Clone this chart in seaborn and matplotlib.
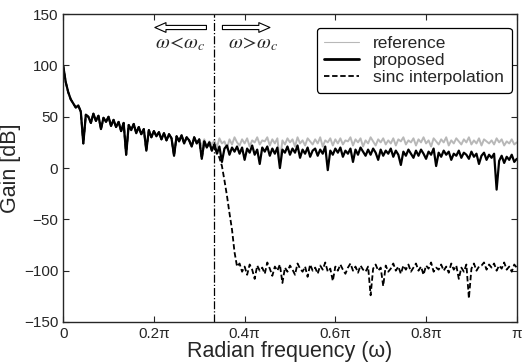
import numpy as np
import pandas as pd
import matplotlib
matplotlib.use("Agg")
import matplotlib.pyplot as plt
import seaborn as sns

# frequency axis in units of pi (181 bins from 0 to pi)
freq = np.linspace(0, 1, 181)
cutoff = 1 / 3

# proposed method, gain in dB
proposed = [
    100, 84, 74, 67, 63, 59, 61, 55, 24, 52,
    50, 44, 53, 46, 51, 38, 49, 45, 50, 41,
    47, 40, 45, 36, 44, 13, 42, 37, 43, 34,
    40, 33, 38, 17, 37, 30, 36, 31, 35, 28,
    34, 27, 33, 29, 12, 31, 26, 32, 24, 30,
    27, 21, 30, 24, 28, 9, 26, 20, 25, 17,
    23, 14, 21, 6, 19, 22, 13, 20, 16, 21,
    14, 20, 8, 19, 15, 22, 13, 18, 4, 20,
    16, 21, 12, 19, 14, 20, 0, 18, 15, 21,
    13, 19, 15, 22, 10, 18, 14, 20, 11, 17,
    19, 12, 18, 14, 21, -2, 17, 13, 19, 15,
    20, 11, 17, 14, 19, 6, 18, 13, 20, 16,
    12, 18, 13, 19, 15, 8, 18, 12, 17, 14,
    19, 11, 17, 13, 3, 16, 12, 18, 14, 10,
    17, 12, 18, 14, 9, 16, 13, 19, 2, 15,
    11, 17, 13, 16, 8, 14, 12, 17, 10, 15,
    13, 9, 16, 11, 14, 4, 12, 15, 8, 13,
    10, 14, -21, 7, 12, 5, 11, 8, 13, 6, 9,
]

# reference: same as proposed below 0.3*pi, values from bin 54 on
reference_tail = [
    27, 22, 28, 21, 26, 23,
    27, 20, 29, 24, 26, 19, 28, 23, 30, 25,
    22, 28, 24, 29, 21, 27, 25, 30, 23, 27,
    26, 30, 22, 28, 24, 29, 7, 27, 23, 29,
    25, 28, 21, 30, 24, 27, 22, 29, 26, 23,
    28, 24, 30, 21, 27, 25, 29, 22, 28, 24,
    29, 23, 27, 26, 30, 22, 28, 25, 29, 21,
    27, 24, 30, 26, 22, 28, 25, 29, 23, 27,
    24, 29, 22, 28, 26, 30, 23, 27, 25, 29,
    22, 28, 25, 30, 24, 27, 21, 29, 26, 23,
    28, 25, 30, 22, 27, 24, 29, 26, 23, 28,
    25, 30, 23, 27, 24, 29, 22, 28, 26, 24,
    27, 23, 29, 25, 28, 22, 26, 24, 28, 23, 25,
]

# sinc interpolation: same as proposed up to the cutoff, values from bin 61 on
sinc_tail = [
    16, 10, 2, -12, -27, -44, -60, -82, -96,
    -93, -101, -96, -104, -94, -99, -108, -95, -100, -97,
    -103, -92, -98, -105, -96, -100, -94, -112, -97, -101,
    -95, -99, -104, -93, -98, -101, -96, -106, -94, -100,
    -97, -103, -95, -99, -92, -101, -98, -110, -96, -100,
    -94, -99, -103, -97, -93, -100, -96, -102, -95, -99,
    -101, -96, -124, -98, -94, -100, -97, -115, -95, -101,
    -98, -93, -100, -96, -103, -95, -99, -94, -101, -97,
    -93, -100, -96, -104, -95, -98, -92, -101, -97, -99,
    -94, -100, -96, -102, -93, -99, -95, -108, -97, -101,
    -94, -127, -98, -93, -100, -96, -95, -92, -99, -94,
    -97, -93, -100, -95, -98, -92, -99, -96, -101, -94, -97,
]

reference = proposed[:54] + reference_tail
sinc = proposed[:61] + sinc_tail

xticks = [0, 0.2, 0.4, 0.6, 0.8, 1.0]
xticklabels = ["0", "0.2π", "0.4π", "0.6π", "0.8π", "π"]
yticks = [-150, -100, -50, 0, 50, 100, 150]

sns.set_style("ticks")
plt.rcParams["font.family"] = ["Liberation Sans", "DejaVu Sans"]
plt.rcParams["mathtext.fontset"] = "stix"
plt.rcParams["xtick.direction"] = "in"
plt.rcParams["ytick.direction"] = "in"

fig = plt.figure(figsize=(5.22, 3.63), dpi=100)
ax = fig.add_axes([0.121, 0.113, 0.869, 0.848])

sns.lineplot(x=freq, y=reference, color="#b8b8b8", lw=1.4, label="reference",
             estimator=None, ax=ax)
sns.lineplot(x=freq, y=sinc, color="black", lw=1.3, ls=(0, (3, 1.5)),
             label="sinc interpolation", estimator=None, ax=ax)
sns.lineplot(x=freq, y=proposed, color="black", lw=1.6, label="proposed",
             estimator=None, ax=ax)

# cutoff line and region arrows
ax.axvline(cutoff, color="black", lw=0.9, ls="-.")
arrow = dict(arrowstyle="simple,head_width=0.7,head_length=0.8,tail_width=0.3",
             fc="white", ec="black", lw=0.8)
ax.annotate("", xy=(0.196, 137), xytext=(0.322, 137), arrowprops=arrow)
ax.annotate("", xy=(0.462, 137), xytext=(0.345, 137), arrowprops=arrow)
ax.text(0.257, 121, r"$\omega\!<\!\omega_c$", ha="center", va="center", fontsize=14.5)
ax.text(0.418, 121, r"$\omega\!>\!\omega_c$", ha="center", va="center", fontsize=14.5)

ax.set_xlim(0, 1)
ax.set_ylim(-150, 150)
ax.set_xticks(xticks)
ax.set_xticklabels(xticklabels)
ax.set_yticks(yticks)
ax.tick_params(labelsize=11, top=True, right=True, length=4, width=0.8)
ax.set_xlabel("Radian frequency (ω)", fontsize=15.5, labelpad=0)
ax.set_ylabel("Gain [dB]", fontsize=15.5, labelpad=2)
for s in ax.spines.values():
    s.set_linewidth(1.0)

handles, labels = ax.get_legend_handles_labels()
order = [labels.index("reference"), labels.index("proposed"), labels.index("sinc interpolation")]
leg = ax.legend([handles[i] for i in order], [labels[i] for i in order],
                loc="upper right", bbox_to_anchor=(0.989, 0.955), fontsize=12.5,
                frameon=True, fancybox=True, edgecolor="black", framealpha=1,
                handlelength=2.0, borderpad=0.45, labelspacing=0.1,
                borderaxespad=0)
leg.get_frame().set_linewidth(0.9)
leg.legend_handles[0].set_linewidth(0.8)
leg.legend_handles[1].set_linewidth(2.0)
leg.legend_handles[2].set_linewidth(1.3)

fig.savefig("out.png", dpi=100)
